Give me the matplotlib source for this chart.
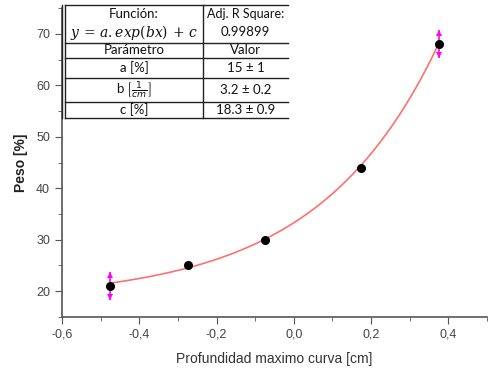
import numpy as np
import matplotlib.pyplot as plt
from matplotlib.ticker import MultipleLocator, FuncFormatter

# measured points
prof = [-0.475, -0.275, -0.075, 0.175, 0.375]
peso = [21.0, 25.0, 30.0, 44.0, 68.0]
err = [2.7, 0.0, 0.0, 0.0, 2.7]

# fit parameters from the table
a, b, c = 15.0, 3.2, 18.3
r2 = "0.99899"

fig = plt.figure(figsize=(4.88, 3.69), dpi=100)
ax = fig.add_axes([0.127, 0.141, 0.871, 0.837])

xf = np.linspace(-0.475, 0.375, 200)
ax.plot(xf, a*np.exp(b*xf)+c, color='#ff7070', lw=1.2, zorder=2)

ax.plot(prof, peso, 'o', color='black', ms=5.5, zorder=4)
# error bars with arrow heads
for x, y, e in zip(prof, peso, err):
    if e <= 0:
        continue
    ax.vlines(x, y-e, y+e, color='#ff00ff', lw=1.2, zorder=3)
    ax.plot([x], [y+e-0.6], marker='^', color='#ff00ff', ms=4, zorder=5, mew=0)
    ax.plot([x], [y-e+0.6], marker='v', color='#ff00ff', ms=4, zorder=5, mew=0)

ax.set_xlim(-0.6, 0.5)
ax.set_ylim(15, 75)
ax.xaxis.set_major_locator(MultipleLocator(0.2))
ax.xaxis.set_minor_locator(MultipleLocator(0.1))
ax.yaxis.set_major_locator(MultipleLocator(10))
ax.yaxis.set_minor_locator(MultipleLocator(5))
ax.xaxis.set_major_formatter(FuncFormatter(lambda v, p: ('%.1f' % v).replace('.', ',').replace('-0,0', '0,0')))
ax.spines['top'].set_visible(False)
ax.spines['right'].set_visible(False)
for s in ['left', 'bottom']:
    ax.spines[s].set_color('#555555')
    ax.spines[s].set_linewidth(1.2)
ax.tick_params(which='major', direction='out', length=5, color='#555555',
               labelsize=9, labelcolor='#444444')
ax.tick_params(which='minor', direction='out', length=3, color='#555555')
for lab in ax.get_xticklabels() + ax.get_yticklabels():
    lab.set_family('Liberation Sans')

ax.set_xlabel('Profundidad maximo curva [cm]', fontsize=10, color='#333333',
              family='Liberation Sans', labelpad=8)
ax.set_ylabel('Peso [%]', fontsize=10, color='#222222', family='Liberation Sans',
              fontweight='bold', labelpad=6)

# table drawn in pixel coordinates of the figure
H = 369.0
def fx(px): return px/488.0
def fy(py): return 1 - py/H

x0, xm, x1 = 65, 203, 288
rows = [5, 43, 58, 78, 102, 118]
lc = '#222222'
for y in rows:
    fig.add_artist(plt.Line2D([fx(x0), fx(x1)], [fy(y), fy(y)], color=lc, lw=1.0))
fig.add_artist(plt.Line2D([fx(x0), fx(x0)], [fy(rows[0]), fy(rows[-1])], color=lc, lw=1.0))
fig.add_artist(plt.Line2D([fx(x0-3), fx(x0-3)], [fy(rows[0]), fy(rows[-1])], color=lc, lw=1.0))
fig.add_artist(plt.Line2D([fx(xm), fx(xm)], [fy(rows[0]), fy(rows[-1])], color=lc, lw=1.0))

tf = 'Lato'
tcol = '#111111'
fs = 9.5
cl = (x0 + xm)/2
cr = (xm + x1)/2
fig.text(fx(cl), fy(14), 'Función:', ha='center', va='center', fontsize=fs, family=tf, color=tcol)
fig.text(fx(cl), fy(32), r'$y\,=\,a.exp(bx)\,+\,c$', ha='center', va='center', fontsize=10,
         color=tcol, math_fontfamily='dejavuserif')
fig.text(fx(cr), fy(14), 'Adj. R Square:', ha='center', va='center', fontsize=9, family=tf, color=tcol)
fig.text(fx(cr), fy(32), r2, ha='center', va='center', fontsize=fs, family=tf, color=tcol)

cells = [('Parámetro', 'Valor'),
         ('a [%]', '15 ± 1'),
         (r'b $\left[\frac{1}{cm}\right]$', '3.2 ± 0.2'),
         ('c [%]', '18.3 ± 0.9')]
for i, (l, r) in enumerate(cells):
    yc = (rows[i+1] + rows[i+2])/2
    fig.text(fx(cl), fy(yc), l, ha='center', va='center', fontsize=fs, family=tf, color=tcol)
    fig.text(fx(cr), fy(yc), r, ha='center', va='center', fontsize=fs, family=tf, color=tcol)

fig.savefig('out.png', dpi=100)
